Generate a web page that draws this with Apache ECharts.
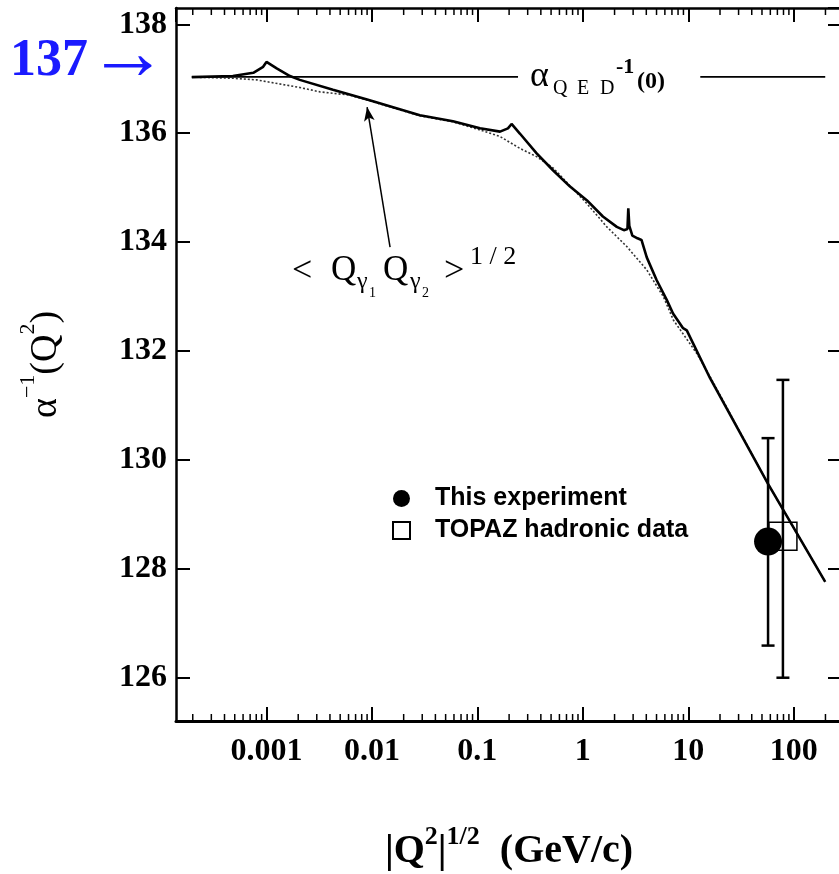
<!DOCTYPE html>
<html>
<head>
<meta charset="utf-8">
<script src="https://cdn.jsdelivr.net/npm/echarts@6/dist/echarts.min.js"></script>
<style>
html, body { margin: 0; padding: 0; background: #fff; }
#chart { width: 839px; height: 874px; }
</style>
</head>
<body>
<div id="chart"></div>
<script>
// axis ranges
var xMin = 1.387e-4, xMax = 287;
var yMin = 125.205, yMax = 138.30;
var xTickLabels = ['0.001', '0.01', '0.1', '1', '10', '100'];
var minorDecades = [1e-4, 1e-3, 1e-2, 1e-1, 1, 10, 100];
var minorMult = [2, 3, 4, 5, 6, 7, 8, 9];

// running alpha (solid, with thresholds)
var solidQ = [1.96e-4, 4.8e-4, 7.5e-4, 9.3e-4, 1.0e-3, 1.25e-3, 1.67e-3, 2.07e-3, 4.27e-3, 9.0e-3,
  0.0285, 0.0587, 0.106, 0.164, 0.195, 0.211, 0.254, 0.365, 0.521, 0.756,
  1.09, 1.55, 2.1, 2.45, 2.65, 2.70, 2.76, 2.95, 3.3, 3.6, 4.04, 5.02, 6.25, 7.17, 8.93, 9.68,
  16.1, 57.1, 199];
var solidAlpha = [137.03, 137.05, 137.11, 137.22, 137.31, 137.19, 137.05, 136.98, 136.80, 136.62,
  136.33, 136.22, 136.09, 136.03, 136.09, 136.17, 135.99, 135.63, 135.32, 135.02,
  134.77, 134.47, 134.28, 134.22, 134.24, 134.62, 134.30, 134.12, 134.07, 134.04, 133.72, 133.30, 132.94, 132.69, 132.42, 132.38,
  131.50, 129.56, 127.76];

// <Q1 Q2>^1/2 curve (dotted)
var dotQ = [1.96e-4, 4.8e-4, 8.05e-4, 2.07e-3, 3.21e-3, 6.18e-3, 9.0e-3, 0.0285, 0.0587, 0.106,
  0.164, 0.254, 0.365, 0.525, 1.09, 1.69, 2.61, 4.04, 5.8, 7.22, 12.0, 16.1, 57.1, 199];
var dotAlpha = [137.03, 137.01, 136.98, 136.84, 136.76, 136.70, 136.61, 136.32, 136.21, 136.06,
  135.94, 135.72, 135.57, 135.36, 134.71, 134.28, 133.92, 133.49, 133.0, 132.57, 131.96, 131.53, 129.56, 127.76];

// alpha_QED^-1(0) reference line, broken for its label
var refQ = [1.96e-4, 0.243, 1, 13.0, 199];
var refAlpha = [137.036, 137.036, '-', 137.036, 137.036];

// measurements
var expQ = [57.1], expAlpha = [128.5];
var topazQ = [79], topazAlpha = [128.6];
var errQ = [57.1, 79], errLow = [126.59, 126.0], errHigh = [130.40, 131.47];

// annotation arrow (tail, head) in data units
var arrowQ = [0.01486, 0.0090], arrowAlpha = [133.91, 136.48];

function zip(xs, ys) {
    return xs.map(function (x, i) { return [x, ys[i]]; });
}

var minorTicks = [];
minorDecades.forEach(function (d) {
    minorMult.forEach(function (m) {
        var v = d * m;
        if (v > xMin && v < xMax) minorTicks.push([v, yMin]);
    });
});

var chart = echarts.init(document.getElementById('chart'));
var serif = '"Liberation Serif", "Times New Roman", serif';
var ink = '#000';

function axisSide(pos, isX) {
    var a = {
        position: pos,
        min: isX ? xMin : yMin,
        max: isX ? xMax : yMax,
        axisLine: { show: true, onZero: false, lineStyle: { color: ink, width: 2.5 } },
        axisTick: { show: true, inside: true, length: 14, lineStyle: { color: ink, width: 2 } },
        axisLabel: { show: false },
        splitLine: { show: false }
    };
    if (isX) { a.type = 'log'; a.logBase = 10; a.splitNumber = 6; }
    else { a.type = 'value'; a.splitNumber = 6; }
    return a;
}

var xBottom = axisSide('bottom', true);
xBottom.axisLine.lineStyle.width = 3;
xBottom.axisLabel = {
    show: true, margin: 15, color: ink, fontFamily: serif, fontWeight: 'bold', fontSize: 32,
    showMinLabel: false, showMaxLabel: false,
    formatter: function (v) {
        var l = Math.log10(v), e = Math.round(l);
        if (Math.abs(l - e) > 1e-6) return '';
        return xTickLabels[e + 3] || '';
    }
};
xBottom.name = '{a||Q}{s|2}{a||}{s|1/2}{a|  (GeV/c)}';
xBottom.nameLocation = 'middle';
xBottom.nameGap = 103;
xBottom.nameTextStyle = {
    color: ink, fontFamily: serif, fontWeight: 'bold', fontSize: 40,
    rich: {
        a: { color: ink, fontFamily: serif, fontWeight: 'bold', fontSize: 40, lineHeight: 48, verticalAlign: 'bottom' },
        s: { color: ink, fontFamily: serif, fontWeight: 'bold', fontSize: 26, lineHeight: 26, verticalAlign: 'top' }
    }
};

var xTop = axisSide('top', true);

var yLeft = axisSide('left', false);
yLeft.axisLabel = {
    show: true, margin: 9, color: ink, fontFamily: serif, fontWeight: 'bold', fontSize: 32,
    showMinLabel: false, showMaxLabel: false,
    formatter: function (v) {
        return Math.abs(v - Math.round(v)) > 1e-6 ? '' : String(Math.round(v));
    }
};
yLeft.name = '{a|α}{s|−1}{a|(Q}{s|2}{a|)}';
yLeft.nameLocation = 'middle';
yLeft.nameRotate = 90;
yLeft.nameGap = 111;
yLeft.nameTextStyle = {
    color: ink, fontFamily: serif, fontSize: 38,
    rich: {
        a: { color: ink, fontFamily: serif, fontSize: 38, lineHeight: 48, verticalAlign: 'bottom' },
        s: { color: ink, fontFamily: serif, fontSize: 22, lineHeight: 22, verticalAlign: 'top' }
    }
};

var yRight = axisSide('right', false);

function renderMinor(params, api) {
    var x = api.coord([api.value(0), yMin])[0];
    var cs = params.coordSys;
    var st = { stroke: ink, lineWidth: 1.5 };
    var b = cs.y + cs.height, t = cs.y;
    return {
        type: 'group',
        children: [
            { type: 'line', shape: { x1: x, y1: b, x2: x, y2: b - 7 }, style: st },
            { type: 'line', shape: { x1: x, y1: t, x2: x, y2: t + 7 }, style: st }
        ]
    };
}

function renderErrorBar(params, api) {
    var x = api.value(0);
    var lo = api.coord([x, api.value(1)]);
    var hi = api.coord([x, api.value(2)]);
    var half = 6.5;
    var st = { stroke: ink, lineWidth: 2.5 };
    return {
        type: 'group',
        children: [
            { type: 'line', shape: { x1: lo[0], y1: lo[1], x2: hi[0], y2: hi[1] }, style: st },
            { type: 'line', shape: { x1: lo[0] - half, y1: lo[1], x2: lo[0] + half, y2: lo[1] }, style: st },
            { type: 'line', shape: { x1: hi[0] - half, y1: hi[1], x2: hi[0] + half, y2: hi[1] }, style: st }
        ]
    };
}

function txt(x, y, text, font, fill) {
    return {
        type: 'text', x: x, y: y, silent: true,
        style: { text: text, font: font, fill: fill || ink, align: 'left', verticalAlign: 'middle' }
    };
}

var option = {
    animation: false,
    backgroundColor: '#fff',
    grid: { left: 176, top: 8, width: 666, height: 713, outerBoundsMode: 'none', containLabel: false },
    xAxis: [xBottom, xTop],
    yAxis: [yLeft, yRight],
    legend: {
        orient: 'vertical', left: 392, top: 486, padding: 0,
        itemWidth: 17, itemHeight: 17, itemGap: 7, selectedMode: false,
        textStyle: { color: ink, fontFamily: '"Liberation Sans", Arial, sans-serif', fontWeight: 'bold', fontSize: 25, padding: [0, 0, 0, 20] },
        data: ['This experiment', 'TOPAZ hadronic data']
    },
    series: [
        {
            type: 'custom', name: 'minor', silent: true, renderItem: renderMinor,
            data: minorTicks, encode: { x: 0, y: 1 }, z: 5
        },
        {
            type: 'line', name: 'ref', data: zip(refQ, refAlpha), showSymbol: false, silent: true,
            lineStyle: { color: ink, width: 1.8 }, z: 2,
            markLine: {
                silent: true, animation: false, symbolSize: [0, 14],
                label: { show: false },
                lineStyle: { color: ink, width: 1.5, type: 'solid' },
                data: [[
                    { coord: [arrowQ[0], arrowAlpha[0]], symbol: 'none' },
                    { coord: [arrowQ[1], arrowAlpha[1]], symbol: 'arrow', symbolSize: [8, 14] }
                ]]
            }
        },
        {
            type: 'line', name: 'dotted', data: zip(dotQ, dotAlpha), showSymbol: false, silent: true,
            lineStyle: { color: '#333', width: 1.6, type: [2, 2] }, z: 2
        },
        {
            type: 'line', name: 'running', data: zip(solidQ, solidAlpha), showSymbol: false, silent: true,
            lineStyle: { color: ink, width: 2.6 }, z: 3
        },
        {
            type: 'custom', name: 'errors', silent: true, renderItem: renderErrorBar,
            data: errQ.map(function (q, i) { return [q, errLow[i], errHigh[i]]; }),
            encode: { x: 0, y: [1, 2] }, z: 4
        },
        {
            type: 'scatter', name: 'TOPAZ hadronic data', data: zip(topazQ, topazAlpha),
            symbol: 'rect', symbolSize: 28, silent: true,
            itemStyle: { color: 'rgba(0,0,0,0)', borderColor: ink, borderWidth: 1.5, opacity: 1 }, z: 5
        },
        {
            type: 'scatter', name: 'This experiment', data: zip(expQ, expAlpha),
            symbol: 'circle', symbolSize: 28, silent: true,
            itemStyle: { color: ink, opacity: 1 }, z: 6
        }
    ],
    graphic: [
        txt(10, 62, '137', 'bold 52px ' + serif, '#1a1aff'),
        txt(88, 58, '→', 'bold 80px ' + serif, '#1a1aff'),
        // alpha_QED^-1(0)
        txt(530, 77, 'α', '36px ' + serif),
        txt(553, 89, 'Q', '20px ' + serif),
        txt(577, 89, 'E', '20px ' + serif),
        txt(600, 89, 'D', '20px ' + serif),
        txt(616, 67, '-1', 'bold 22px ' + serif),
        txt(637, 82, '(0)', 'bold 24px ' + serif),
        // < Q_g1 Q_g2 >^1/2
        txt(292, 272, '<', '36px ' + serif),
        txt(331, 271, 'Q', '35px ' + serif),
        txt(357, 282, 'γ', '24px ' + serif),
        txt(369, 293, '1', '14px ' + serif),
        txt(383, 271, 'Q', '35px ' + serif),
        txt(410, 282, 'γ', '24px ' + serif),
        txt(422, 293, '2', '14px ' + serif),
        txt(444, 272, '>', '36px ' + serif),
        txt(470, 257, '1 / 2', '26px ' + serif)
    ]
};

chart.setOption(option);
window.onresize = function () { chart.resize(); };
</script>
</body>
</html>
